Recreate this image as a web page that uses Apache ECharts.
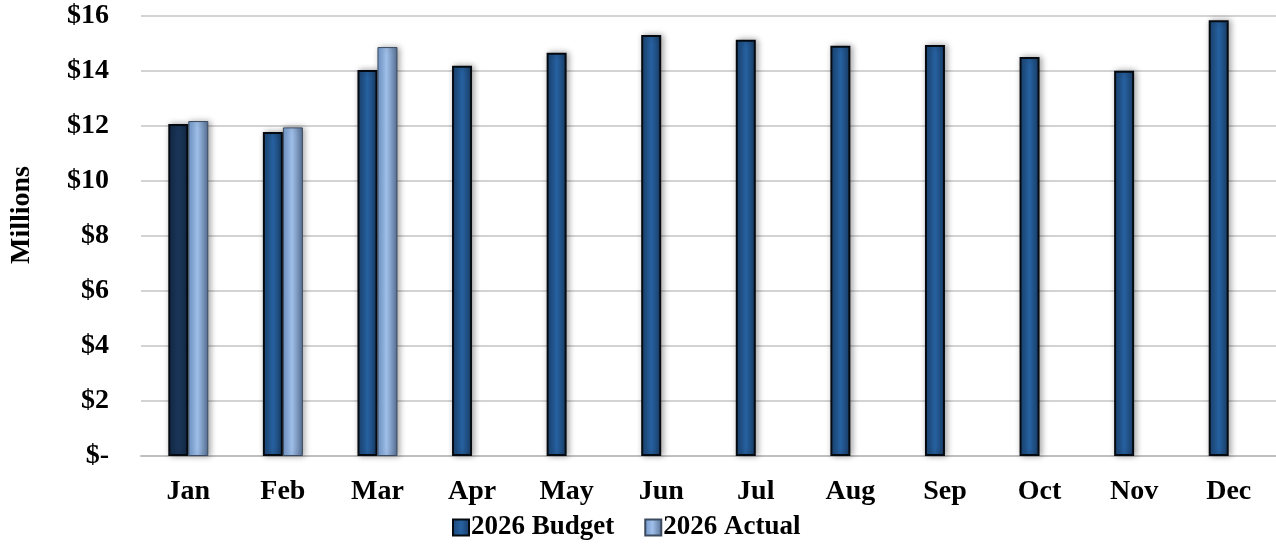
<!DOCTYPE html>
<html>
<head>
<meta charset="utf-8">
<script src="https://cdn.jsdelivr.net/npm/echarts@6/dist/echarts.min.js"></script>
<style>
html,body{margin:0;padding:0;background:#fff;}
#chart{width:1276px;height:544px;}
</style>
</head>
<body>
<div id="chart"></div>
<script>
var categories = ['Jan','Feb','Mar','Apr','May','Jun','Jul','Aug','Sep','Oct','Nov','Dec'];
var budget2026 = [12.07, 11.78, 14.04, 14.19, 14.66, 15.31, 15.14, 14.92, 14.95, 14.51, 14.01, 15.85];
var actual2026 = [12.18, 11.95, 14.87, null, null, null, null, null, null, null, null, null];
var yTicks = [0, 2, 4, 6, 8, 10, 12, 14, 16];

function hGrad(stops) {
  return new echarts.graphic.LinearGradient(0, 0, 1, 0, stops);
}
var budgetGrad = hGrad([
  {offset: 0, color: '#1b4675'},
  {offset: 0.5, color: '#2762a2'},
  {offset: 1, color: '#193d66'}
]);
var budgetGradDark = hGrad([
  {offset: 0, color: '#132c4b'},
  {offset: 0.5, color: '#1b365a'},
  {offset: 1, color: '#142a47'}
]);
var actualGrad = hGrad([
  {offset: 0, color: '#7096c9'},
  {offset: 0.45, color: '#a0c0ea'},
  {offset: 1, color: '#566f92'}
]);

var budgetData = budget2026.map(function (v, i) {
  if (i === 0) {
    return {value: v, itemStyle: {color: budgetGradDark}};
  }
  return v;
});

var chart = echarts.init(document.getElementById('chart'));
var serif = '"Liberation Serif", "Times New Roman", serif';
chart.setOption({
  animation: false,
  backgroundColor: '#ffffff',
  grid: {left: 141, right: 0, top: 16, bottom: 88, containLabel: false},
  legend: {
    top: 509,
    left: 447,
    itemWidth: 16,
    itemHeight: 16,
    itemGap: 30,
    icon: 'rect',
    textStyle: {fontFamily: serif, fontWeight: 'bold', fontSize: 27, color: '#000', padding: [0, 0, 0, -3]},
    data: ['2026 Budget', '2026 Actual']
  },
  xAxis: {
    type: 'category',
    data: categories,
    axisLine: {show: true, lineStyle: {color: '#bfbfbf', width: 2}},
    axisTick: {show: false},
    axisLabel: {
      margin: 22,
      fontFamily: serif, fontWeight: 'bold', fontSize: 28, color: '#000'
    }
  },
  yAxis: {
    type: 'value',
    min: yTicks[0],
    max: yTicks[yTicks.length - 1],
    interval: 2,
    axisLine: {show: false},
    axisTick: {show: false},
    splitLine: {show: true, lineStyle: {color: '#c4c4c4', width: 1.5}},
    axisLabel: {
      margin: 32,
      fontFamily: serif, fontWeight: 'bold', fontSize: 28, color: '#000',
      formatter: function (v) { return v === 0 ? '$-' : '$' + v; }
    }
  },
  graphic: [{
    type: 'text',
    x: 22,
    y: 215,
    rotation: Math.PI / 2,
    style: {
      text: 'Millions',
      fontFamily: serif, fontWeight: 'bold', fontSize: 28, fill: '#000',
      align: 'center', verticalAlign: 'middle'
    }
  }],
  series: [
    {
      name: '2026 Budget',
      type: 'bar',
      barWidth: 20,
      barGap: '0%',
      data: budgetData,
      itemStyle: {
        color: budgetGrad,
        borderColor: '#050a10',
        borderWidth: 2,
        shadowColor: 'rgba(0,0,0,0.35)',
        shadowBlur: 6,
        shadowOffsetX: 2
      }
    },
    {
      name: '2026 Actual',
      type: 'bar',
      barWidth: 20,
      barGap: '0%',
      data: actual2026,
      itemStyle: {
        color: actualGrad,
        borderColor: '#3b4a5e',
        borderWidth: 1,
        shadowColor: 'rgba(0,0,0,0.35)',
        shadowBlur: 6,
        shadowOffsetX: 2
      }
    }
  ]
});
</script>
</body>
</html>
